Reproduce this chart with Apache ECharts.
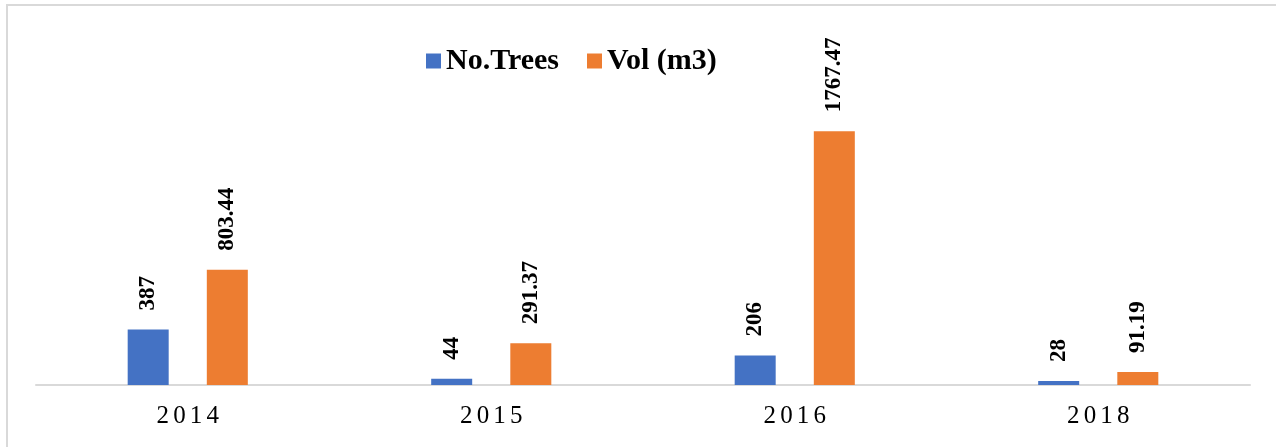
<!DOCTYPE html>
<html>
<head>
<meta charset="utf-8">
<script src="https://cdn.jsdelivr.net/npm/echarts@6/dist/echarts.min.js"></script>
<style>
html,body{margin:0;padding:0;background:#fff;}
#c{width:1276px;height:447px;}
</style>
</head>
<body>
<div id="c"></div>
<script>
var categories = ['2014', '2015', '2016', '2018'];
var noTrees = [387, 44, 206, 28];
var volM3 = [803.44, 291.37, 1767.47, 91.19];
var seriesNames = ['No.Trees', 'Vol (m3)'];

var chart = echarts.init(document.getElementById('c'));
var serif = '"Liberation Serif", "Times New Roman", serif';
var labelCfg = {
  show: true,
  position: 'top',
  rotate: 90,
  align: 'left',
  verticalAlign: 'middle',
  distance: 19,
  color: '#000',
  fontFamily: serif,
  fontWeight: 'bold',
  fontSize: 23
};
chart.setOption({
  animation: false,
  graphic: [{
    type: 'rect',
    shape: {x: 7, y: 5, width: 1400, height: 600},
    style: {fill: 'none', stroke: '#d9d9d9', lineWidth: 2},
    silent: true
  }],
  legend: {
    left: 421,
    top: 41,
    itemWidth: 15,
    itemHeight: 15,
    itemGap: 28,
    icon: 'rect',
    textStyle: {fontFamily: serif, fontWeight: 'bold', fontSize: 30, color: '#000'},
    data: seriesNames
  },
  grid: {left: 36, right: 26, top: 98, bottom: 62, containLabel: false},
  xAxis: {
    type: 'category',
    data: categories,
    axisLine: {lineStyle: {color: '#d9d9d9', width: 2}},
    axisTick: {show: false},
    axisLabel: {
      fontFamily: serif,
      fontSize: 25,
      color: '#000',
      margin: 19,
      formatter: function (v) { return v.split('').join('\u2006'); }
    }
  },
  yAxis: {
    type: 'value',
    min: 0,
    max: 2000,
    show: false,
    splitLine: {show: false}
  },
  series: [{
    name: seriesNames[0],
    type: 'bar',
    data: noTrees,
    barWidth: 41,
    barGap: '93%',
    itemStyle: {color: '#4472C4'},
    label: labelCfg
  }, {
    name: seriesNames[1],
    type: 'bar',
    data: volM3,
    barWidth: 41,
    itemStyle: {color: '#ED7D31'},
    label: labelCfg
  }]
});
</script>
</body>
</html>
